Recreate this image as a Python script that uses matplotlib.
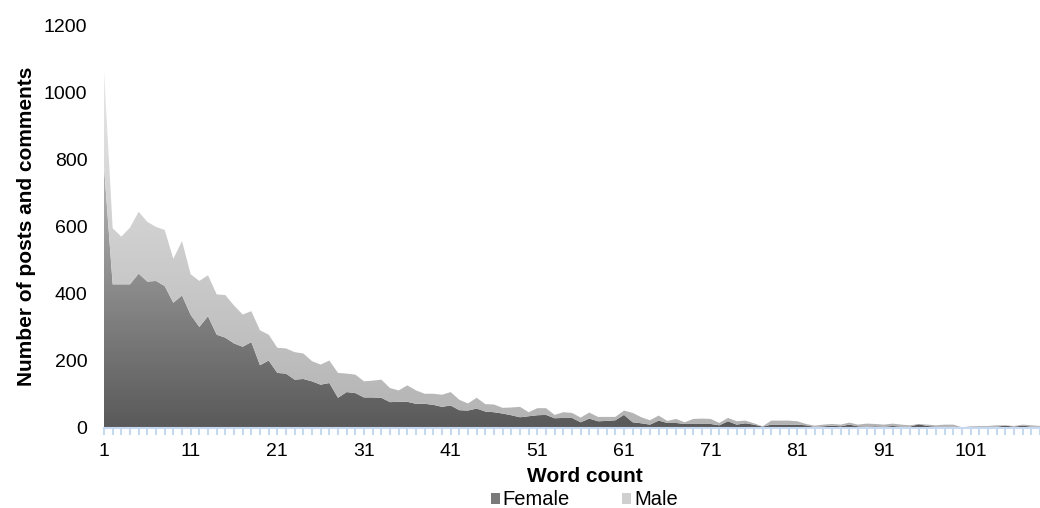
import numpy as np
import matplotlib.pyplot as plt
from matplotlib.colors import LinearSegmentedColormap
from matplotlib.patches import Patch

plt.rcParams["font.family"] = ["Liberation Sans", "DejaVu Sans"]

# word count categories 1..109
word_count = np.arange(1, 110)

female = [
    780, 428, 428, 428, 460, 436, 438, 423, 373, 395,
    337, 301, 333, 278, 269, 252, 242, 256, 187, 201,
    164, 162, 144, 146, 139, 129, 134, 90, 107, 104,
    91, 91, 90, 77, 78, 78, 72, 72, 69, 63,
    67, 53, 52, 58, 49, 47, 43, 38, 32, 35,
    38, 39, 29, 30, 30, 17, 28, 20, 21, 23,
    39, 17, 14, 10, 22, 15, 15, 12, 12, 12,
    12, 8, 20, 10, 14, 10, 4, 10, 10, 10,
    10, 8, 3, 5, 7, 5, 10, 5, 4, 5,
    4, 6, 4, 4, 11, 6, 4, 4, 4, 0,
    3, 4, 4, 4, 7, 4, 7, 4, 4,
]
male = [
    285, 167, 142, 169, 184, 178, 161, 167, 131, 162,
    121, 137, 122, 120, 127, 113, 96, 92, 104, 77,
    75, 75, 82, 76, 60, 60, 67, 74, 55, 55,
    48, 50, 54, 42, 34, 49, 40, 30, 33, 36,
    40, 31, 21, 32, 22, 23, 17, 23, 31, 12,
    21, 20, 10, 17, 15, 14, 18, 13, 12, 10,
    13, 28, 18, 13, 15, 6, 12, 5, 15, 16,
    15, 7, 10, 10, 8, 4, 1, 12, 12, 12,
    10, 4, 4, 5, 5, 5, 6, 5, 9, 7,
    6, 7, 6, 4, 1, 4, 4, 6, 6, 2,
    2, 2, 2, 4, 1, 2, 3, 4, 2,
]

series_names = ["Female", "Male"]
x_tick_labels = [1, 11, 21, 31, 41, 51, 61, 71, 81, 91, 101]


def gradient_fill(ax, x, lower, upper, c_bottom, c_top, v_bottom, v_top):
    poly = ax.fill_between(x, lower, upper, facecolor="none", edgecolor="none")
    cmap = LinearSegmentedColormap.from_list("g", [c_bottom, c_top])
    grad = np.linspace(0, 1, 256).reshape(-1, 1)
    im = ax.imshow(grad, cmap=cmap, aspect="auto", origin="lower",
                   extent=[x[0], x[-1], v_bottom, v_top], zorder=1,
                   interpolation="bilinear")
    im.set_clip_path(poly.get_paths()[0], transform=ax.transData)
    return poly


fig = plt.figure(figsize=(10.4, 5.08), dpi=100)
ax = fig.add_axes([0.1, 0.1575, 0.9, 0.793])

f = np.array(female, dtype=float)
m = np.array(male, dtype=float)
total = f + m

gradient_fill(ax, word_count, 0, f, "#595959", "#b8b8b8", 0, 800)
gradient_fill(ax, word_count, f, total, "#b3b3b3", "#e8e8e8", 0, 1070)

ax.set_xlim(1, 109)
ax.set_ylim(0, 1200)
ax.set_yticks(np.arange(0, 1201, 200))
ax.tick_params(axis="y", length=0, pad=12, labelsize=14)

ax.set_xticks(word_count, minor=True)
ax.set_xticks(x_tick_labels)
ax.set_xticklabels([str(v) for v in x_tick_labels])
ax.tick_params(axis="x", which="both", direction="out", length=5, width=1.5,
               color="#c6d9f0", labelsize=14, pad=6)

for side in ["top", "right", "left"]:
    ax.spines[side].set_visible(False)
ax.spines["bottom"].set_color("#c6d9f0")
ax.spines["bottom"].set_linewidth(1.5)

ax.set_xlabel("Word count", fontsize=15, fontweight="bold")
ax.xaxis.label.set_va("center")
ax.xaxis.set_label_coords(0.514, -0.121)
ax.set_ylabel("Number of posts and comments", fontsize=15, fontweight="bold",
              labelpad=6)

handles = [Patch(facecolor="#7a7a7a", edgecolor="none"),
           Patch(facecolor="#cfcfcf", edgecolor="none")]
fig.legend(handles, series_names, loc="center", bbox_to_anchor=(0.562, 0.016),
           ncol=2, frameon=False, fontsize=14.5, handlelength=0.45,
           handleheight=0.45, handletextpad=0.15, columnspacing=2.6,
           borderpad=0, borderaxespad=0)

fig.savefig("out.png", dpi=100)
